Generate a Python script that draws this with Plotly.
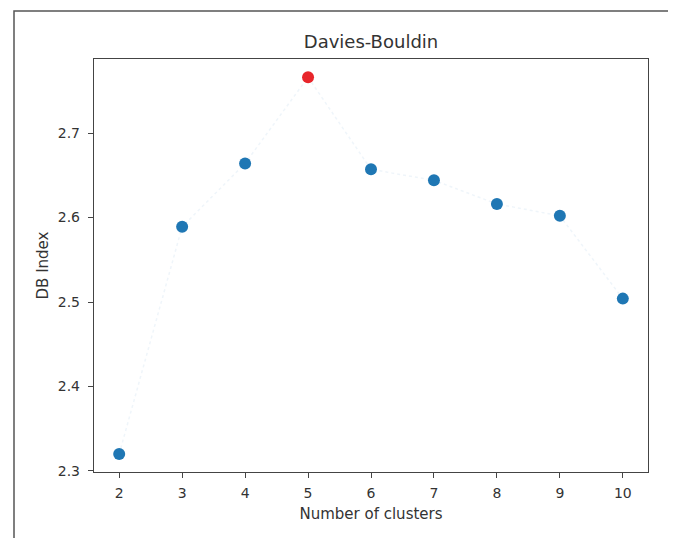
import plotly.graph_objects as go

clusters = [2, 3, 4, 5, 6, 7, 8, 9, 10]
db_index = [2.320, 2.589, 2.664, 2.766, 2.657, 2.644, 2.616, 2.602, 2.504]
best_k = 5
x_ticks = [2, 3, 4, 5, 6, 7, 8, 9, 10]
y_ticks = [2.3, 2.4, 2.5, 2.6, 2.7]

BLUE = "#1f77b4"
RED = "#e8262b"
colors = [RED if k == best_k else BLUE for k in clusters]

fig = go.Figure()
fig.add_trace(go.Scatter(
    x=clusters, y=db_index, mode="lines",
    line=dict(color="rgba(31,119,180,0.07)", width=1.5, dash="dot"),
    hoverinfo="skip", showlegend=False,
))
fig.add_trace(go.Scatter(
    x=clusters, y=db_index, mode="markers",
    marker=dict(color=colors, size=12, line=dict(width=0)),
    showlegend=False,
))

# page body has an 8px margin, so figure coords = screen coords - 8
OFF = 8
W, H = 676 - OFF, 538 - OFF
L, R, T, B = 94 - OFF, 648 - OFF, 59 - OFF, 472 - OFF
def px(x):
    return (x - OFF - L) / (R - L)
def py(y):
    return (B - (y - OFF)) / (B - T)

fig.add_shape(type="rect", xref="paper", yref="paper",
              x0=px(14), x1=px(675), y0=py(580), y1=py(11),
              line=dict(color="#555555", width=1.5), layer="below")

FONT = "DejaVu Sans"
axis_common = dict(
    showline=True, linecolor="#444444", linewidth=1.4, mirror=True,
    ticks="outside", ticklen=5, tickwidth=1, tickcolor="#444444",
    showgrid=False, zeroline=False,
    tickfont=dict(family=FONT, size=14, color="#333333"),
)

fig.update_layout(
    width=W, height=H,
    margin=dict(l=L, r=W - R, t=T, b=H - B),
    paper_bgcolor="white", plot_bgcolor="white",
    title=dict(text="Davies-Bouldin", x=px(371), xanchor="center",
               y=1 - (42 - OFF) / H, yanchor="middle", xref="paper",
               font=dict(family=FONT, size=18, color="#333333")),
    xaxis=dict(range=[1.6, 10.4], tickvals=x_ticks,
               ticktext=[str(v) for v in x_ticks],
               ticklabelstandoff=3,
               title=dict(text="Number of clusters", standoff=8,
                          font=dict(family=FONT, size=15, color="#333333")),
               **axis_common),
    yaxis=dict(range=[2.2988, 2.7876], tickvals=y_ticks,
               ticktext=[f"{v:.1f}" for v in y_ticks],
               ticklabelstandoff=5,
               title=dict(text="DB Index", standoff=5,
                          font=dict(family=FONT, size=15, color="#333333")),
               **axis_common),
)

fig.write_html("out.html")
